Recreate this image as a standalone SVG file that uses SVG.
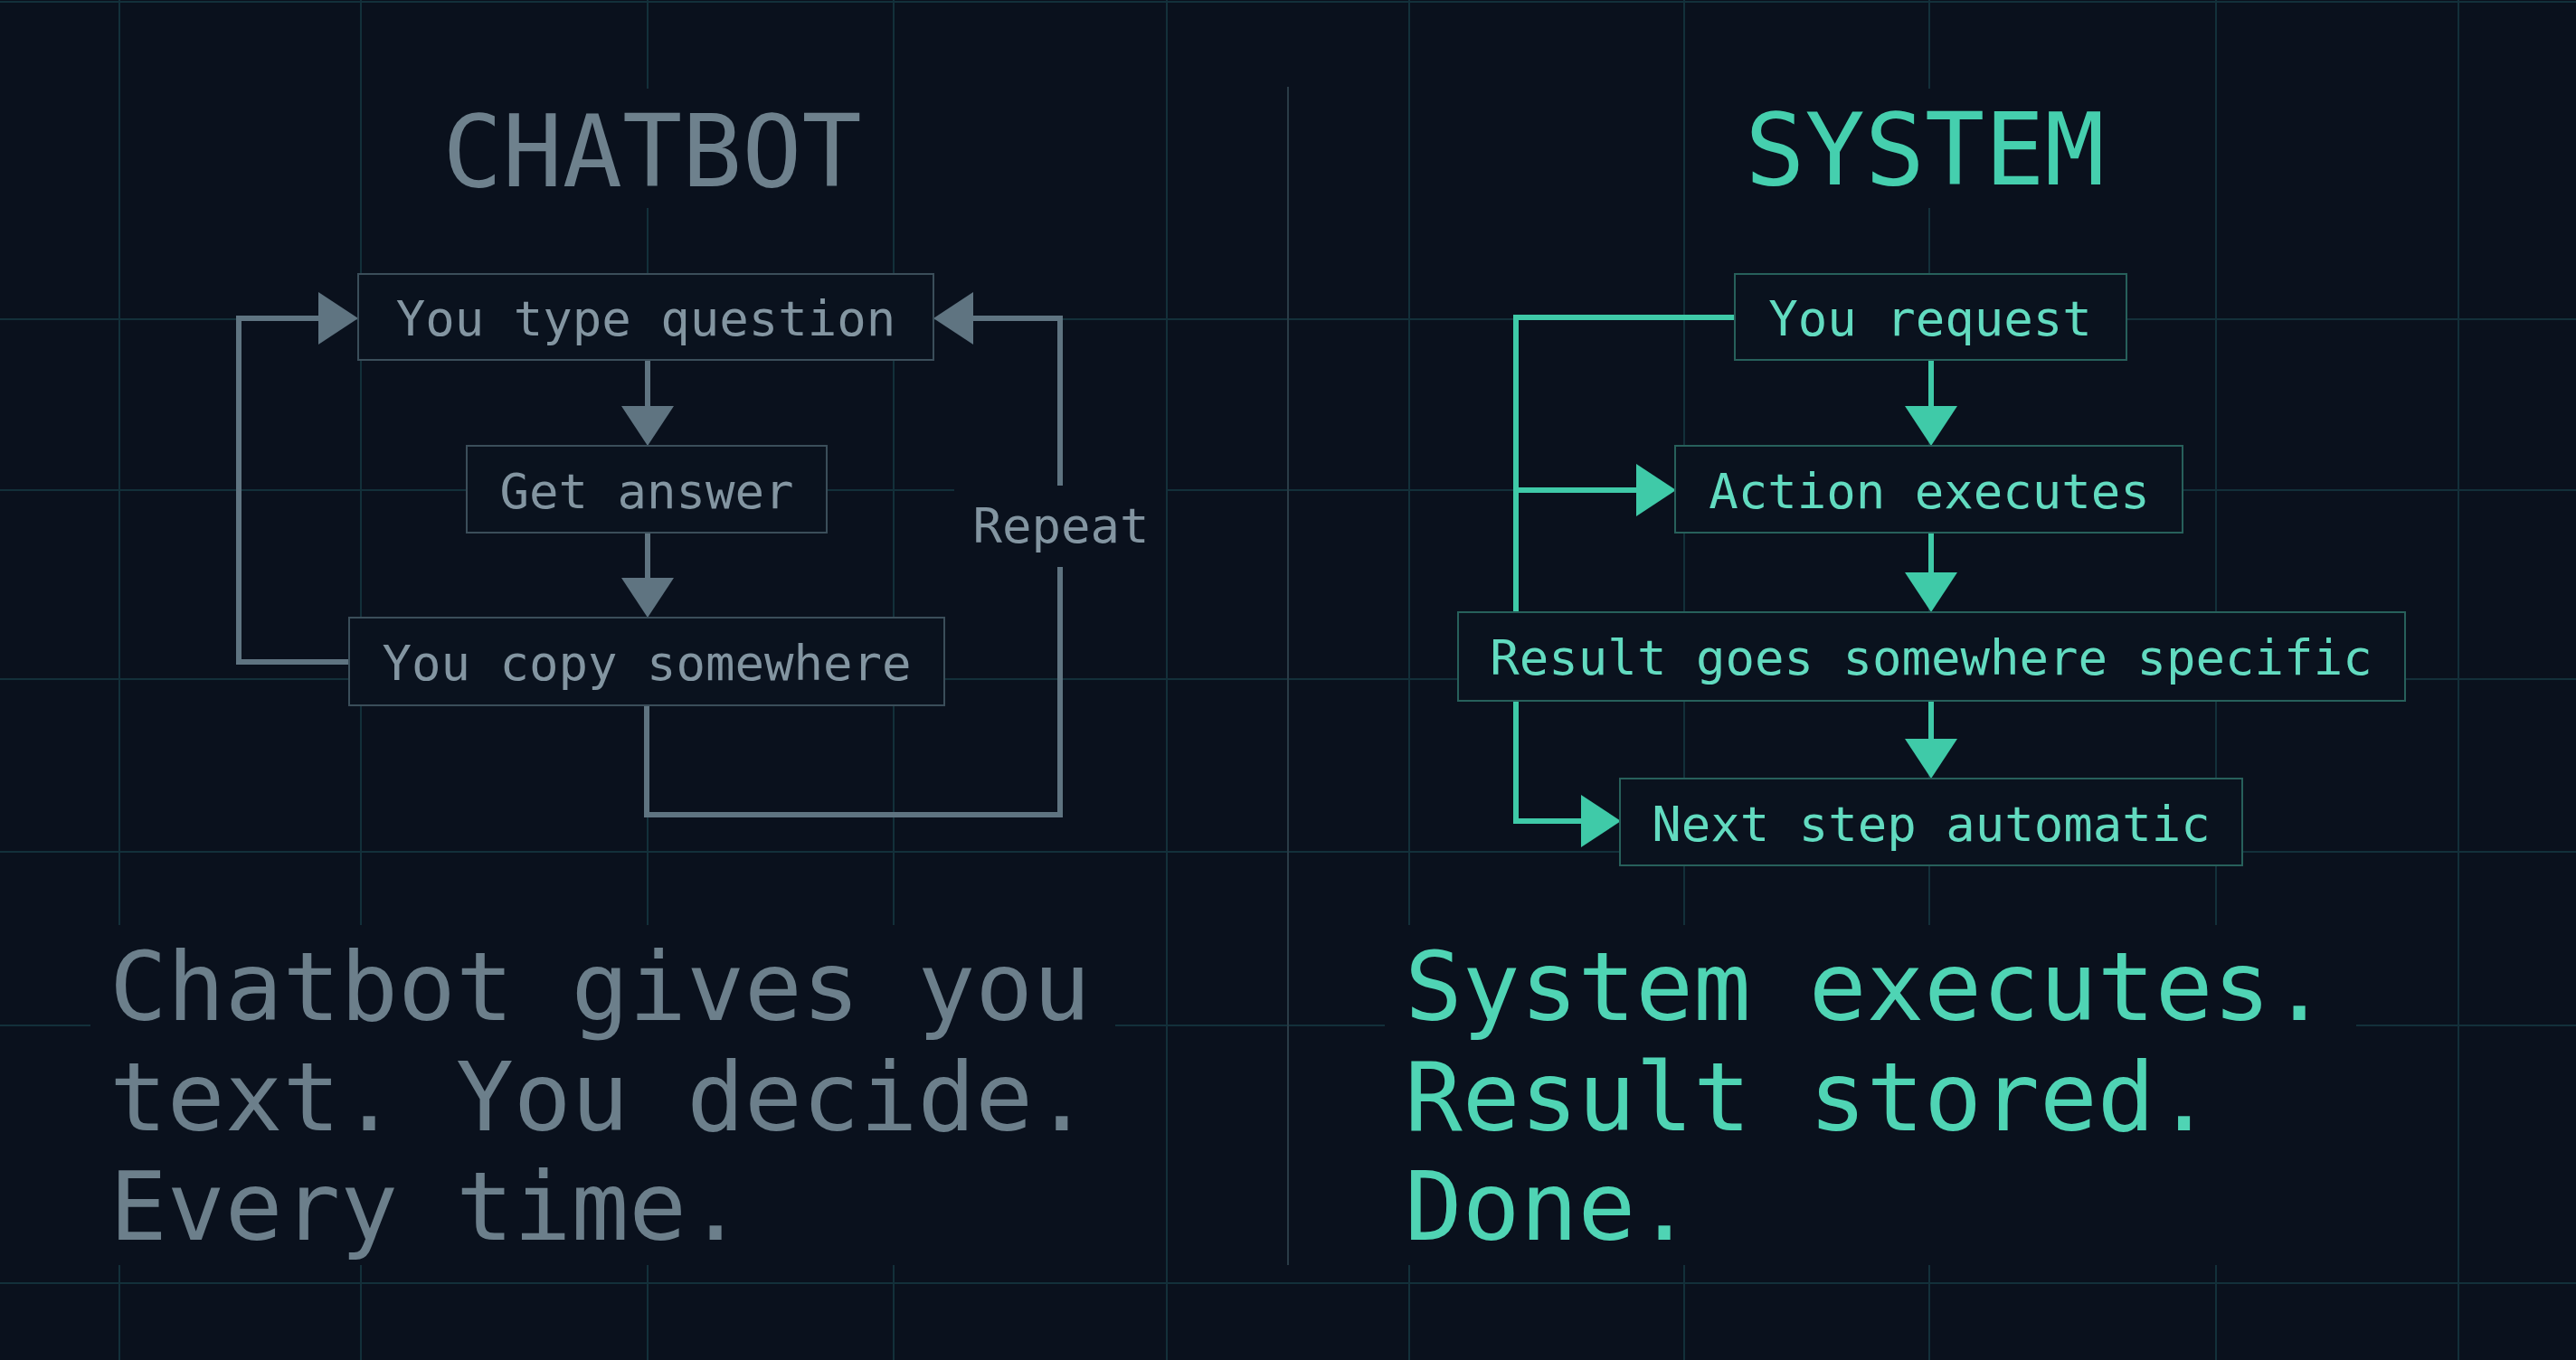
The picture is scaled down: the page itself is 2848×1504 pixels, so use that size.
<svg xmlns="http://www.w3.org/2000/svg" width="2848" height="1504" viewBox="0 0 2848 1504">
<defs>
<style>
.grid{stroke:#13303a;stroke-width:2;fill:none}
.divider{stroke:#2a3c47;stroke-width:2}
.gline{stroke:#5f7481;stroke-width:6;fill:none;stroke-linejoin:miter;stroke-linecap:butt}
.tline{stroke:#3fcaa8;stroke-width:6;fill:none;stroke-linejoin:miter;stroke-linecap:butt}
.gbox{fill:#0a121e;stroke:#3b4e5a;stroke-width:2}
.tbox{fill:#0a121e;stroke:#27605b;stroke-width:2}
.mono{font-family:'DejaVu Sans Mono','Liberation Mono',monospace}
.glabel{fill:#8395a1;font-size:54px}
.tlabel{fill:#62dbc0;font-size:54px}
.gtitle{fill:#6e818d;font-size:110px}
.ttitle{fill:#45cfae;font-size:110px}
.gbig{fill:#6c7f8b;font-size:106px}
.tbig{fill:#4fd4b4;font-size:106px}
</style>
<marker id="ahg" markerUnits="userSpaceOnUse" markerWidth="44" markerHeight="58" refX="0" refY="29" orient="auto"><path d="M0,0 L44,29 L0,58 Z" fill="#5f7481"/></marker>
<marker id="aht" markerUnits="userSpaceOnUse" markerWidth="44" markerHeight="58" refX="0" refY="29" orient="auto"><path d="M0,0 L44,29 L0,58 Z" fill="#3fcaa8"/></marker>
</defs>
<rect width="2848" height="1504" fill="#0a111d"/>
<g id="grid" class="grid">
<path d="M132,0 V1023 M132,1399 V1504"/>
<path d="M399,0 V1023 M399,1399 V1504"/>
<path d="M716,0 V98 M716,230 V1023 M716,1399 V1504"/>
<path d="M988,0 V1023 M988,1399 V1504"/>
<path d="M1290,0 V1504"/>
<path d="M1558,0 V1023 M1558,1399 V1504"/>
<path d="M1862,0 V1023 M1862,1399 V1504"/>
<path d="M2133,0 V98 M2133,230 V1023 M2133,1399 V1504"/>
<path d="M2450,0 V1023 M2450,1399 V1504"/>
<path d="M2718,0 V1504"/>
<path d="M0,2 H2848"/>
<path d="M0,353 H2848"/>
<path d="M0,542 H1055 M1290,542 H2848"/>
<path d="M0,751 H2848"/>
<path d="M0,942 H2848"/>
<path d="M0,1134 H100 M1233,1134 H1531 M2605,1134 H2848"/>
<path d="M0,1419 H2848"/>
</g>
<line class="divider" x1="1424" y1="96" x2="1424" y2="1399"/>
<g id="connectors">
<path class="gline" d="M716,398 V449" marker-end="url(#ahg)"/>
<path class="gline" d="M716,589 V639" marker-end="url(#ahg)"/>
<path class="gline" d="M386,732 H264 V352 H352" marker-end="url(#ahg)"/>
<path class="gline" d="M715,780 V901 H1172 V627"/>
<path class="gline" d="M1172,537 V352 H1076" marker-end="url(#ahg)"/>
<path class="tline" d="M2135,398 V449" marker-end="url(#aht)"/>
<path class="tline" d="M2135,589 V633" marker-end="url(#aht)"/>
<path class="tline" d="M2135,775 V817" marker-end="url(#aht)"/>
<path class="tline" d="M1918,351 H1676 V908 H1748" marker-end="url(#aht)"/>
<path class="tline" d="M1676,542 H1809" marker-end="url(#aht)"/>
</g>
<g id="node-you-type-question"><rect class="gbox" x="396" y="303" width="636" height="95"/><text class="mono glabel" x="714" y="371" text-anchor="middle">You type question</text></g>
<g id="node-get-answer"><rect class="gbox" x="516" y="493" width="398" height="96"/><text class="mono glabel" x="715" y="562" text-anchor="middle">Get answer</text></g>
<g id="node-you-copy-somewhere"><rect class="gbox" x="386" y="683" width="658" height="97"/><text class="mono glabel" x="715" y="752" text-anchor="middle">You copy somewhere</text></g>
<g id="label-repeat"><text class="mono glabel" x="1173" y="600" text-anchor="middle">Repeat</text></g>
<g id="node-you-request"><rect class="tbox" x="1918" y="303" width="433" height="95"/><text class="mono tlabel" x="2134" y="371" text-anchor="middle">You request</text></g>
<g id="node-action-executes"><rect class="tbox" x="1852" y="493" width="561" height="96"/><text class="mono tlabel" x="2133" y="562" text-anchor="middle">Action executes</text></g>
<g id="node-result-goes"><rect class="tbox" x="1612" y="677" width="1047" height="98"/><text class="mono tlabel" x="2135" y="746" text-anchor="middle">Result goes somewhere specific</text></g>
<g id="node-next-step"><rect class="tbox" x="1791" y="861" width="688" height="96"/><text class="mono tlabel" x="2135" y="930" text-anchor="middle">Next step automatic</text></g>
<g id="titles">
<text class="mono gtitle" x="721" y="206" text-anchor="middle">CHATBOT</text>
<text class="mono ttitle" x="2128" y="204" text-anchor="middle">SYSTEM</text>
</g>
<g id="summary-left" class="mono gbig">
<text x="121" y="1128">Chatbot gives you</text>
<text x="121" y="1250">text. You decide.</text>
<text x="121" y="1371">Every time.</text>
</g>
<g id="summary-right" class="mono tbig">
<text x="1553" y="1128">System executes.</text>
<text x="1553" y="1250">Result stored.</text>
<text x="1553" y="1371">Done.</text>
</g>
</svg>
